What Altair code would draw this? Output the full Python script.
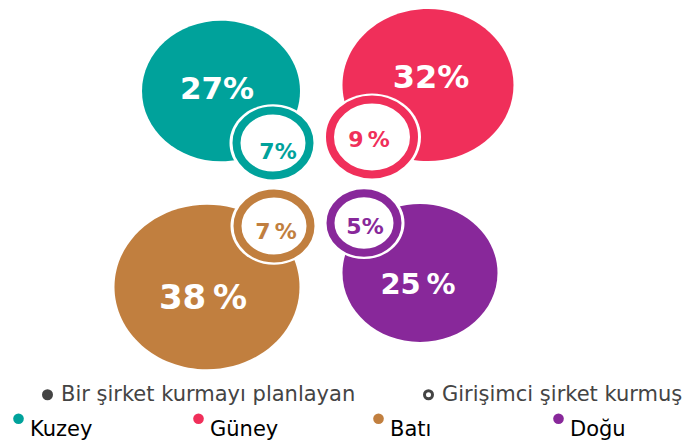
import altair as alt
import pandas as pd

# ---- data ----
regions = ["Kuzey", "Güney", "Batı", "Doğu"]
planning = [27, 32, 38, 25]      # Bir şirket kurmayı planlayan (%)
founded = [7, 9, 7, 5]           # Girişimci şirket kurmuş (%)
types = ["Bir şirket kurmayı planlayan", "Girişimci şirket kurmuş"]

# ---- styles / layout (page pixels) ----
colors = ["#00A29B", "#F02F5A", "#C17F3F", "#88289A"]
big_cx = [221, 428, 207, 420]
big_cy = [88, 82, 284, 270]
big_d = [158, 171, 185, 155]
big_lx = [217, 431, 203, 418]
big_ly = [87, 75, 296, 282]
big_fs = [31, 32, 34, 29]
big_gap = [False, False, True, True]
small_cx = [273, 372, 274, 364]
small_cy = [140, 134, 223, 220]
small_d = [87, 98, 87, 81]
small_lx = [278, 369, 276, 365]
small_ly = [149, 137, 229, 224]
small_gap = [False, True, True, False]

ELL = "M -1 0 A 1 0.89 0 1 1 1 0 A 1 0.89 0 1 1 -1 0 Z"
THIN = "\u2009"

W, H = 683, 430
X = alt.Scale(domain=[8, 8 + W])
Y = alt.Scale(domain=[8 + H, 8])

big = pd.DataFrame({
    "region": regions, "value": planning, "hex": colors,
    "x": big_cx, "y": big_cy, "sz": [d * d for d in big_d],
    "lx": big_lx, "ly": big_ly, "fs": big_fs,
    "label": [f"{v}{THIN if g else ''}%" for v, g in zip(planning, big_gap)],
})
small = pd.DataFrame({
    "region": regions, "value": founded, "hex": colors,
    "x": small_cx, "y": small_cy,
    "bg": [d * d for d in small_d],
    "ring": [(d - 14) ** 2 for d in small_d],
    "lx": small_lx, "ly": small_ly,
    "label": [f"{v}{THIN if g else ''}%" for v, g in zip(founded, small_gap)],
})
leg = pd.DataFrame({"type": types, "x": [big_cx[0]] * 2, "y": [big_cy[0]] * 2})

type_legend = alt.Legend(
    orient="none", legendX=29, legendY=373, direction="horizontal", columns=2,
    title=None, symbolType="circle", symbolSize=64, symbolStrokeWidth=3,
    symbolOpacity=1,
    labelFont="DejaVu Sans", labelFontSize=21, labelColor="#444444",
    labelOffset=3, columnPadding=62, gridAlign="all", labelLimit=500,
)
color_legend = alt.Legend(
    orient="none", legendX=0, legendY=397, direction="horizontal", columns=4,
    title=None, symbolType="circle", symbolSize=113, symbolStrokeWidth=0,
    symbolOpacity=1,
    labelFont="DejaVu Sans", labelFontSize=21, labelColor="#000000",
    labelBaseline="top", labelOffset=1, columnPadding=89, gridAlign="all",
    labelLimit=500,
)

legend_layer = alt.Chart(leg).mark_point(stroke="#444444", strokeWidth=3, size=20, shape="circle", opacity=1).encode(
    x=alt.X("x:Q", scale=X, axis=None),
    y=alt.Y("y:Q", scale=Y, axis=None),
    fill=alt.Fill("type:N", scale=alt.Scale(domain=types, range=["#444444", "#ffffff"]), legend=type_legend),
)

big_pts = alt.Chart(big).mark_point(filled=True, opacity=1, shape=ELL).encode(
    x=alt.X("x:Q", scale=X, axis=None),
    y=alt.Y("y:Q", scale=Y, axis=None),
    size=alt.Size("sz:Q", scale=None),
    color=alt.Color("region:N", scale=alt.Scale(domain=regions, range=colors), legend=color_legend),
)
big_txt = alt.Chart(big).mark_text(font="DejaVu Sans", fontWeight="bold", color="white", baseline="middle", align="center").encode(
    x=alt.X("lx:Q", scale=X, axis=None),
    y=alt.Y("ly:Q", scale=Y, axis=None),
    size=alt.Size("fs:Q", scale=None),
    text="label:N",
)
small_bg = alt.Chart(small).mark_point(filled=True, opacity=1, shape=ELL, color="white").encode(
    x=alt.X("x:Q", scale=X, axis=None),
    y=alt.Y("y:Q", scale=Y, axis=None),
    size=alt.Size("bg:Q", scale=None),
)
small_ring = alt.Chart(small).mark_point(filled=False, opacity=1, shape=ELL, strokeWidth=8).encode(
    x=alt.X("x:Q", scale=X, axis=None),
    y=alt.Y("y:Q", scale=Y, axis=None),
    size=alt.Size("ring:Q", scale=None),
    stroke=alt.Stroke("hex:N", scale=None),
)
small_txt = alt.Chart(small).mark_text(font="DejaVu Sans", fontWeight="bold", fontSize=22, baseline="middle", align="center").encode(
    x=alt.X("lx:Q", scale=X, axis=None),
    y=alt.Y("ly:Q", scale=Y, axis=None),
    color=alt.Color("hex:N", scale=None),
    text="label:N",
)

chart = alt.layer(legend_layer, big_pts, big_txt, small_bg, small_ring, small_txt).properties(
    width=W, height=H, padding=0
).configure_view(stroke=None)

chart.save("out.html", embed_options={"renderer": "svg", "actions": False})
